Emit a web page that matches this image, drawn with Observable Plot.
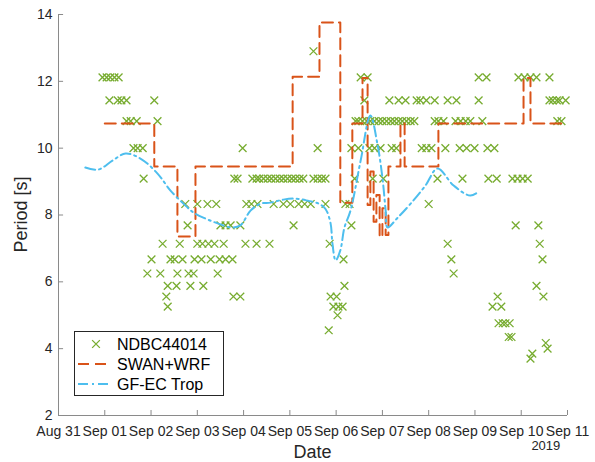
<!DOCTYPE html>
<html>
<head>
<meta charset="utf-8">
<script src="https://cdn.jsdelivr.net/npm/d3@7"></script>
<script src="https://cdn.jsdelivr.net/npm/@observablehq/plot@0.6"></script>
<style>
  html, body { margin: 0; padding: 0; background: #fff; }
  #chart svg { display: block; }
</style>
</head>
<body>
<div id="chart"></div>
<script>
// Times are given in days since 2019-08-31 00:00 UTC.
const t0 = Date.UTC(2019, 7, 31);
const toDate = d => new Date(t0 + d * 864e5);

// NDBC 44014 buoy: peak period bins [s] and the observation times in each bin
const ndbcPeriods = [12.90, 12.12, 11.43, 10.81, 10.00, 9.09, 8.33, 7.69, 7.14, 6.67, 6.25, 5.88, 5.56, 5.26, 5.00, 4.76, 4.55, 4.35, 4.17, 4.00, 3.85, 3.70];
const ndbcDays = [
  [5.51],
  [0.95, 1.04, 1.12, 1.21, 1.30, 6.53, 6.68, 9.08, 9.25, 9.94, 10.07, 10.20, 10.33, 10.61],
  [1.10, 1.28, 1.36, 1.47, 2.07, 6.61, 7.15, 7.35, 7.50, 7.74, 7.82, 7.95, 8.13, 8.41, 8.60, 9.08, 10.61, 10.68, 10.77, 10.83, 10.96],
  [1.47, 1.56, 1.69, 2.14, 6.42, 6.48, 6.57, 6.66, 6.74, 6.83, 6.92, 7.00, 7.09, 7.18, 7.26, 7.35, 7.43, 7.52, 7.61, 7.69, 8.13, 8.21, 8.32, 8.58, 8.69, 8.80, 8.90, 9.16, 10.78, 10.87],
  [1.62, 1.71, 1.82, 3.98, 5.60, 6.33, 6.48, 6.72, 6.83, 6.96, 7.20, 7.30, 7.85, 7.95, 8.06, 8.36, 8.67, 8.82, 8.99, 9.27, 9.42],
  [1.84, 3.80, 3.87, 4.19, 4.28, 4.34, 4.43, 4.52, 4.60, 4.69, 4.78, 4.86, 4.95, 5.04, 5.12, 5.21, 5.29, 5.51, 5.60, 5.69, 5.77, 6.40, 6.79, 7.02, 8.19, 8.73, 9.29, 9.47, 9.81, 9.92, 10.03, 10.14],
  [2.74, 3.00, 3.22, 3.41, 4.06, 4.17, 4.30, 4.65, 4.86, 5.01, 5.19, 5.32, 5.45, 5.77, 6.20, 6.29, 8.00],
  [2.79, 3.50, 3.61, 3.72, 3.93, 5.08, 6.33, 9.88, 10.37],
  [2.25, 2.62, 3.00, 3.11, 3.24, 3.37, 3.57, 4.04, 4.28, 4.56, 5.86, 8.41, 10.40],
  [2.01, 2.42, 2.51, 2.68, 2.94, 3.09, 3.29, 3.48, 3.61, 3.76, 6.16, 8.49, 10.46],
  [1.92, 2.20, 2.57, 2.81, 2.92, 3.44, 8.54],
  [2.36, 2.55, 2.85, 3.13, 6.18, 10.33],
  [2.33, 3.78, 3.93, 5.88, 6.01, 9.49, 10.48],
  [2.36, 5.94, 6.05, 6.14, 9.38, 9.57],
  [6.03],
  [9.51, 9.60, 9.66, 9.75],
  [5.84],
  [9.73, 9.79],
  [10.53],
  [10.57],
  [10.24],
  [10.20]
];

// SWAN+WRF modelled peak period (piecewise constant)
const swanDays    = [1.00, 2.07, 2.57, 2.96, 5.06, 5.64, 6.09, 6.35, 6.57, 6.68, 6.74, 6.81, 6.87, 6.94, 7.00, 7.07, 7.13, 7.39, 7.48, 8.21, 10.05, 10.20, 10.96];
const swanPeriods = [10.74, 9.45, 7.36, 9.45, 12.14, 13.76, 8.37, 10.74, 12.10, 8.30, 9.30, 7.80, 8.60, 7.35, 8.20, 7.40, 9.45, 10.74, 9.45, 10.74, 12.10, 10.74, 10.74];

// GF-EC Trop modelled peak period
const gfDays    = [0.58, 0.86, 1.17, 1.45, 1.77, 2.14, 2.42, 2.70, 2.92, 3.18, 3.44, 3.72, 3.93, 4.15, 4.37, 4.58, 4.86, 5.12, 5.38, 5.62, 5.77, 5.88, 5.92, 5.99, 6.09, 6.18, 6.31, 6.53, 6.74, 6.89, 7.00, 7.07, 7.11, 7.33, 7.61, 7.93, 8.19, 8.54, 8.90, 9.08];
const gfPeriods = [9.42, 9.36, 9.63, 9.84, 9.69, 9.24, 8.73, 8.34, 8.07, 7.89, 7.75, 7.63, 7.69, 8.13, 8.34, 8.37, 8.46, 8.49, 8.43, 8.34, 8.18, 7.75, 7.15, 6.64, 6.94, 7.63, 8.13, 9.63, 10.98, 10.14, 9.12, 8.13, 7.63, 7.92, 8.34, 8.88, 9.39, 8.88, 8.58, 8.70];

// Axis ticks
const xTickDays = d3.range(0, 12);
const yTicks = [2, 4, 6, 8, 10, 12, 14];
const legendLabels = ["NDBC44014", "SWAN+WRF", "GF-EC Trop"];

const colors = { ndbc: "#77AC30", swan: "#D95319", gf: "#4DBEEE" };
const axisColor = "#8a8a8a";
const textColor = "#262626";
const font = "'Liberation Sans', Arial, Helvetica, sans-serif";

const obs = ndbcPeriods.flatMap((p, i) => ndbcDays[i].map(d => ({ date: toDate(d), period: p })));
const swan = swanDays.map((d, i) => ({ date: toDate(d), period: swanPeriods[i] }));
const gf = gfDays.map((d, i) => ({ date: toDate(d), period: gfPeriods[i] }));
const xTicks = xTickDays.map(toDate);

const markerR = 3.6;
const x0 = toDate(0);

const plot = Plot.plot({
  width: 595,
  height: 462,
  marginLeft: 58,
  marginRight: 28,
  marginTop: 14,
  marginBottom: 47,
  style: { fontFamily: font, color: textColor, background: "#fff", overflow: "visible" },
  x: { type: "utc", domain: [toDate(0), toDate(11)] },
  y: { domain: [2, 14] },
  marks: [
    // axis lines
    Plot.ruleY([2], { stroke: axisColor, strokeWidth: 1 }),
    Plot.ruleX([x0], { stroke: axisColor, strokeWidth: 1 }),
    // inward tick marks
    Plot.ruleX(xTicks, { x: d => d, y1: () => 2, y2: () => 2.15, stroke: axisColor }),
    Plot.ruleY(yTicks, { y: d => d, x1: () => x0, x2: () => toDate(0.11), stroke: axisColor }),
    // tick labels
    Plot.axisX({ ticks: xTicks, tickFormat: d3.utcFormat("%b %d"), tickSize: 0, tickPadding: 11, fontSize: 14, label: null }),
    Plot.axisY({ ticks: yTicks, tickSize: 0, tickPadding: 6, fontSize: 14, label: null }),
    // data
    Plot.dot(obs, { x: "date", y: "period", symbol: "times", r: markerR, stroke: colors.ndbc, strokeWidth: 1.3 }),
    Plot.line(swan, { x: "date", y: "period", curve: "step-after", stroke: colors.swan, strokeWidth: 2, strokeDasharray: "11,6" }),
    Plot.line(gf, { x: "date", y: "period", curve: "catmull-rom", stroke: colors.gf, strokeWidth: 2, strokeDasharray: "10,4,2,4" })
  ]
});

document.getElementById("chart").appendChild(plot);

// Titles, year label and legend
const svg = d3.select(plot);
const xs = plot.scale("x"), ys = plot.scale("y");

svg.append("text")
  .attr("x", (xs.apply(toDate(0)) + xs.apply(toDate(11))) / 2)
  .attr("y", 458)
  .attr("text-anchor", "middle")
  .attr("font-size", 18).attr("fill", textColor).attr("font-family", font)
  .text("Date");

svg.append("text")
  .attr("transform", `translate(27,${(ys.apply(2) + ys.apply(14)) / 2}) rotate(-90)`)
  .attr("text-anchor", "middle")
  .attr("font-size", 18).attr("fill", textColor).attr("font-family", font)
  .text("Period [s]");

svg.append("text")
  .attr("x", (xs.apply(toDate(10)) + xs.apply(toDate(11))) / 2 + 2)
  .attr("y", 450)
  .attr("text-anchor", "middle")
  .attr("font-size", 13).attr("fill", textColor).attr("font-family", font)
  .text("2019");

const lg = svg.append("g").attr("font-family", font).attr("font-size", 16).attr("fill", "#000")
  .attr("text-anchor", "start");
lg.append("rect").attr("x", 74.5).attr("y", 331.5).attr("width", 149).attr("height", 64)
  .attr("fill", "#fff").attr("stroke", "#262626").attr("stroke-width", 1);
const rows = [344, 364, 384];
lg.append("path")
  .attr("transform", `translate(96,${rows[0]})`)
  .attr("d", d3.symbol(d3.symbolTimes, markerR * markerR * Math.PI)())
  .attr("fill", "none").attr("stroke", colors.ndbc).attr("stroke-width", 1.3);
lg.append("line").attr("x1", 78).attr("x2", 111).attr("y1", rows[1]).attr("y2", rows[1])
  .attr("stroke", colors.swan).attr("stroke-width", 2).attr("stroke-dasharray", "11,6");
lg.append("line").attr("x1", 78).attr("x2", 111).attr("y1", rows[2]).attr("y2", rows[2])
  .attr("stroke", colors.gf).attr("stroke-width", 2).attr("stroke-dasharray", "10,4,2,4");
legendLabels.forEach((t, i) => {
  lg.append("text").attr("x", 117).attr("y", rows[i]).attr("dy", "0.36em")
    .attr("text-anchor", "start").text(t);
});
</script>
</body>
</html>
